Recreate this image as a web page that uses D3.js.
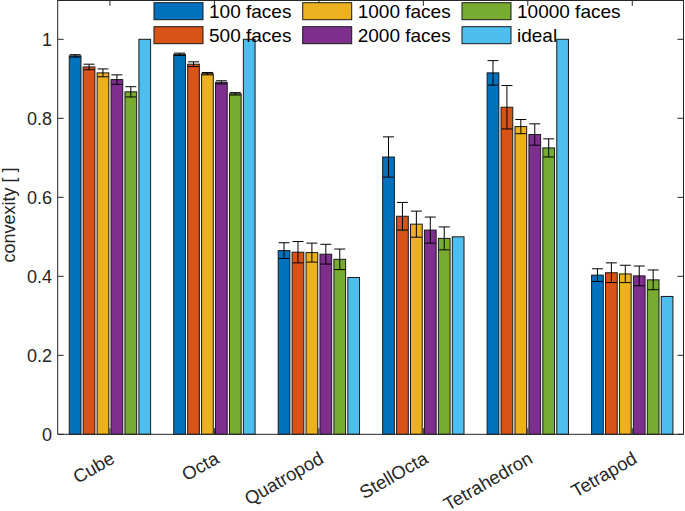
<!DOCTYPE html>
<html><head><meta charset="utf-8">
<script src="https://cdn.jsdelivr.net/npm/d3@7"></script>
<style>body{margin:0;background:#fff}svg{display:block;font-family:"Liberation Sans",Arial,sans-serif}</style>
</head><body><svg id="c" width="685" height="511"></svg>
<script>
const categories = ["Cube","Octa","Quatropod","StellOcta","Tetrahedron","Tetrapod"];
const seriesNames = ["100 faces","500 faces","1000 faces","2000 faces","10000 faces","ideal"];
const seriesColors = ["#0072BD","#D95319","#EDB120","#7E2F8E","#77AC30","#4DBEEE"];
const v100   = [0.958,0.962,0.465,0.702,0.915,0.403];
const v500   = [0.930,0.937,0.461,0.552,0.828,0.409];
const v1000  = [0.915,0.913,0.460,0.532,0.779,0.406];
const v2000  = [0.898,0.891,0.456,0.517,0.759,0.401];
const v10000 = [0.867,0.862,0.443,0.496,0.725,0.391];
const vIdeal = [1.0,1.0,0.397,0.5,1.0,0.349];
const e100   = [0.003,0.003,0.020,0.051,0.031,0.016];
const e500   = [0.007,0.006,0.027,0.035,0.055,0.025];
const e1000  = [0.010,0.003,0.024,0.033,0.018,0.022];
const e2000  = [0.012,0.004,0.025,0.033,0.027,0.025];
const e10000 = [0.013,0.003,0.026,0.029,0.023,0.025];
const yTicks = [0,0.2,0.4,0.6,0.8,1];
const yLabel = "convexity [ ]";

const values = [v100,v500,v1000,v2000,v10000,vIdeal];
const errors = [e100,e500,e1000,e2000,e10000,null];

const svg = d3.select("#c");
const L = 57.7, B = 434.3, T = -0.2;
const x = d3.scaleLinear().domain([0.5,6.5]).range([L,684.5]);
const y = d3.scaleLinear().domain([0,1.1]).range([B,T]);
const R = x(6.5) - 1;
const nS = seriesNames.length;
const step = 0.8/nS, bw = 0.112;
const axisCol = "#262626";

// bars
const gBars = svg.append("g");
values.forEach((vals,s)=>{
  gBars.selectAll(null).data(vals).enter().append("rect")
    .attr("x",(d,i)=>x(i+1+(s-(nS-1)/2)*step - bw/2))
    .attr("width",x(bw)-x(0))
    .attr("y",d=>y(d)).attr("height",d=>y(0)-y(d))
    .attr("fill",seriesColors[s]).attr("stroke","#1a1a1a").attr("stroke-width",1);
});
// error bars
const gErr = svg.append("g").attr("stroke","#000").attr("stroke-width",1).attr("fill","none");
errors.forEach((errs,s)=>{
  if(!errs) return;
  errs.forEach((e,i)=>{
    const cx = x(i+1+(s-(nS-1)/2)*step), v = values[s][i];
    const hw = 5.5;
    gErr.append("line").attr("x1",cx).attr("x2",cx).attr("y1",y(v-e)).attr("y2",y(v+e));
    gErr.append("line").attr("x1",cx-hw).attr("x2",cx+hw).attr("y1",y(v-e)).attr("y2",y(v-e));
    gErr.append("line").attr("x1",cx-hw).attr("x2",cx+hw).attr("y1",y(v+e)).attr("y2",y(v+e));
  });
});

// frame
const gAx = svg.append("g").attr("stroke",axisCol).attr("stroke-width",1).attr("fill","none");
gAx.append("line").attr("x1",L).attr("x2",L).attr("y1",T).attr("y2",B);
gAx.append("line").attr("x1",R).attr("x2",R).attr("y1",T).attr("y2",B);
gAx.append("line").attr("x1",L).attr("x2",R).attr("y1",B).attr("y2",B);
gAx.append("line").attr("x1",L).attr("x2",R).attr("y1",T+0.7).attr("y2",T+0.7);
// y ticks
yTicks.forEach(t=>{
  gAx.append("line").attr("x1",L).attr("x2",L+6).attr("y1",y(t)).attr("y2",y(t));
  gAx.append("line").attr("x1",R).attr("x2",R-6).attr("y1",y(t)).attr("y2",y(t));
});
categories.forEach((c,i)=>{
  gAx.append("line").attr("x1",x(i+1)).attr("x2",x(i+1)).attr("y1",B).attr("y2",B-6);
  gAx.append("line").attr("x1",x(i+1)).attr("x2",x(i+1)).attr("y1",T).attr("y2",T+6);
});
svg.append("g").selectAll("text").data(yTicks).enter().append("text")
  .attr("x",52).attr("y",d=>y(d)).attr("dy","0.35em").attr("text-anchor","end")
  .attr("font-size",18).attr("fill",axisCol).text(d=>d3.format("~g")(d));
svg.append("text").attr("transform","translate(15,215) rotate(-90)")
  .attr("text-anchor","middle").attr("font-size",18).attr("fill",axisCol).text(yLabel);
svg.append("g").selectAll("text").data(categories).enter().append("text")
  .attr("transform",(d,i)=>`translate(${x(i+1)+6},462) rotate(-30)`)
  .attr("text-anchor","end")
  .attr("font-size",18.5).attr("fill",axisCol).text(d=>d);

// legend
const cols = [154,302.7,462], rows = [2.7,26.7];
const gL = svg.append("g");
seriesNames.forEach((n,k)=>{
  const cx = cols[Math.floor(k/2)], ry = rows[k%2];
  gL.append("rect").attr("x",cx).attr("y",ry).attr("width",49).attr("height",17)
    .attr("fill",seriesColors[k]).attr("stroke","#1a1a1a").attr("stroke-width",1);
  gL.append("text").attr("x",cx+55).attr("y",ry+8.5).attr("dy","0.36em")
    .attr("font-size",19).attr("fill","#000").text(n);
});
</script></body></html>
